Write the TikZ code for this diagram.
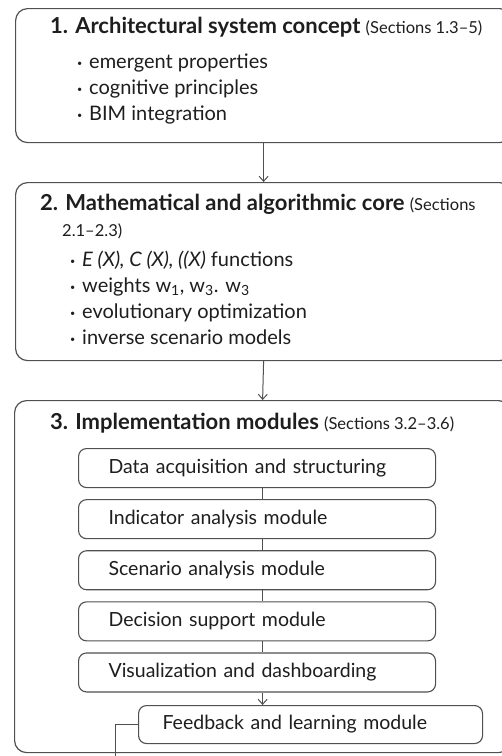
\documentclass[tikz,border=0pt]{standalone}
\usepackage{fontspec}
\setmainfont{Lato}
\usetikzlibrary{arrows.meta,positioning}
\definecolor{FlowLine}{HTML}{505050}
\definecolor{FlowText}{HTML}{1E1E1E}
\newcommand{\flowbullet}{\makebox[12pt][l]{\raisebox{2pt}{\fontsize{9}{9}\selectfont\textbullet}}}
\newcommand{\secnote}[1]{{\mdseries\fontsize{16.5}{19}\selectfont#1}}
\tikzset{
  stage/.style={draw=FlowLine, line width=1.2pt, rounded corners=12pt,
    minimum width=496pt, anchor=north west},
  module/.style={draw=FlowLine, line width=1.1pt, rounded corners=8pt, text=FlowText,
    minimum height=39pt, inner xsep=30pt, text width=297pt, align=left,
    font=\fontsize{19.5}{22}\selectfont},
  heading/.style={anchor=base west, inner sep=0pt, text=FlowText,
    font=\fontsize{22}{25}\selectfont\bfseries},
  % base of a list is the baseline of its last line
  itemlist/.style={anchor=base west, align=left, inner sep=0pt, text=FlowText,
    font=\fontsize{20}{26}\selectfont},
  wire/.style={-{Straight Barb[length=5pt,width=9pt]}, draw=FlowLine, line width=1pt},
  link/.style={draw=FlowLine, line width=1pt}
}

\begin{document}
\begin{tikzpicture}[x=1pt, y=-1pt, node distance=11pt]
  \useasboundingbox (0,0) rectangle (502,756);
  \clip (0,0) rectangle (502,756);
  \fill[white] (0,0) rectangle (502,756);
  % the three stages
  \node[stage, minimum height=134pt] (concept) at (15,8) {};
  \node[stage, minimum height=178pt] (core) at (15,182) {};
  \node[stage, minimum height=352pt] (modules) at (14,400) {};
  % stage 1
  \node[heading] (conceptttl) at (50,33) {1. Architectural system concept \secnote{(Sections 1.3--5)}};
  \node[itemlist] (conceptitems) at (77,120)
    {\flowbullet emergent properties\\ \flowbullet cognitive principles\\ \flowbullet BIM integration};
  % stage 2
  \node[heading] (corettl) at (40,210) {2. Mathematical and algorithmic core \secnote{(Sections}};
  \node[heading, font=\fontsize{16.5}{19}\selectfont] (coresec) at (62,236) {2.1--2.3)};
  \node[itemlist] (coreitems) at (70,344)
    {\flowbullet \textit{E (X), C (X), ((X)} functions\\
     \flowbullet weights w\textsubscript{1}, w\textsubscript{3}. w\textsubscript{3}\\
     \flowbullet evolutionary optimization\\
     \flowbullet inverse scenario models};
  % stage 3
  \node[heading] (modulesttl) at (50,429) {3. Implementation modules \secnote{(Sections 3.2--3.6)}};
  \node[module, anchor=north west] (acquisition) at (78,448) {Data acquisition and structuring};
  \node[module, below=of acquisition] (indicator) {Indicator analysis module};
  \node[module, below=of indicator] (scenario) {Scenario analysis module};
  \node[module, below=of scenario] (decision) {Decision support module};
  \node[module, below=of decision] (visual) {Visualization and dashboarding};
  \node[module, anchor=north west, inner xsep=24pt, text width=296pt, minimum height=38pt]
    (feedback) at (138,705) {Feedback and learning module};
  \coordinate (loopend) at (115,766);

  \draw[wire] (concept.south) -- (core.north);
  \draw[wire] (core.south) -- (modules.north);
  \draw[link] (acquisition.south -| modules.south) -- (indicator.north -| modules.south);
  \draw[link] (indicator.south -| modules.south) -- (scenario.north -| modules.south);
  \draw[link] (scenario.south -| modules.south) -- (decision.north -| modules.south);
  \draw[link] (decision.south -| modules.south) -- (visual.north -| modules.south);
  \draw[wire] (visual.south -| modules.south) -- (feedback.north -| modules.south);
  \draw[link] (feedback.west) -| (loopend);
\end{tikzpicture}
\end{document}
